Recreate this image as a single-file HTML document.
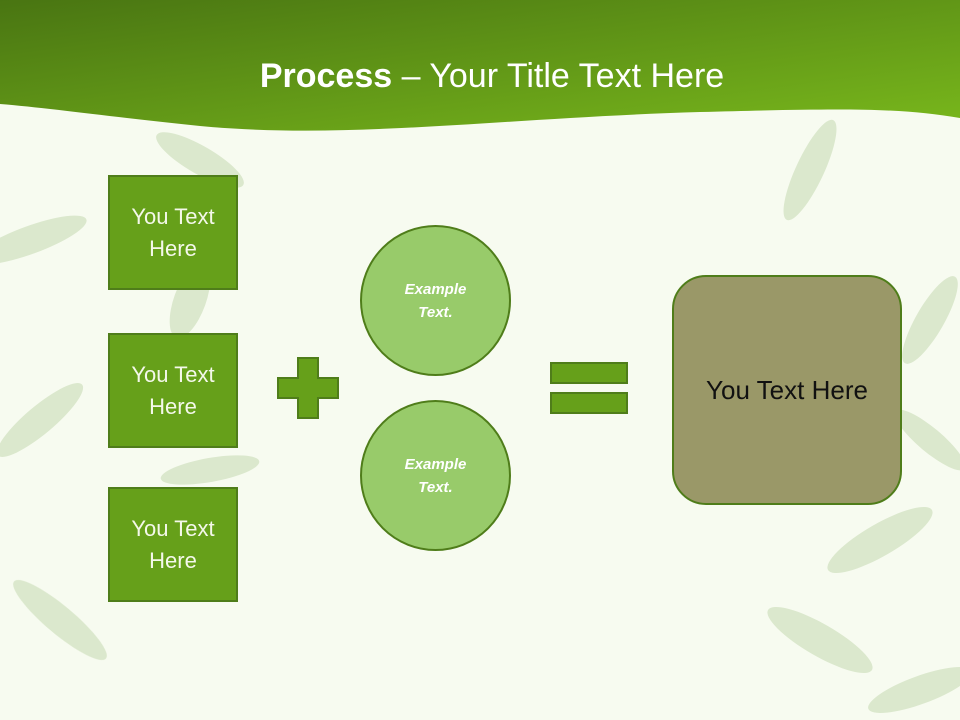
<!DOCTYPE html>
<html><head><meta charset="utf-8"><style>
body{margin:0;width:960px;height:720px;overflow:hidden;background:#f7fbf0;font-family:"Liberation Sans",sans-serif}
.box{position:absolute;left:108px;width:126px;height:111px;background:#66a01a;border:2px solid #4f7d1a;color:#f4f8ea;font-size:22px;line-height:32px;text-align:center;display:flex;align-items:center;justify-content:center}
.circ{position:absolute;left:360px;width:147px;height:147px;border-radius:50%;background:#98cb6a;border:2.5px solid #4f7d1a;color:#fff;font-style:italic;font-weight:bold;font-size:15px;line-height:23px;display:flex;align-items:center;justify-content:center;text-align:center}
.bar{position:absolute;background:#66a01a;border:2px solid #4f7d1a}
</style></head><body>
<svg width="960" height="720" style="position:absolute;left:0;top:0">
<defs><linearGradient id="g" x1="0" y1="0" x2="1" y2="1"><stop offset="0" stop-color="#497512"/><stop offset="1" stop-color="#79b81c"/></linearGradient></defs>
<g fill="#cfe0bd" opacity="0.7">
<ellipse cx="30" cy="240" rx="60" ry="14" transform="rotate(-20 30 240)"/>
<ellipse cx="200" cy="160" rx="50" ry="14" transform="rotate(30 200 160)"/>
<ellipse cx="190" cy="300" rx="16" ry="40" transform="rotate(20 190 300)"/>
<ellipse cx="40" cy="420" rx="55" ry="14" transform="rotate(-40 40 420)"/>
<ellipse cx="60" cy="620" rx="60" ry="14" transform="rotate(40 60 620)"/>
<ellipse cx="210" cy="470" rx="50" ry="12" transform="rotate(-10 210 470)"/>
<ellipse cx="810" cy="170" rx="14" ry="55" transform="rotate(25 810 170)"/>
<ellipse cx="930" cy="320" rx="50" ry="14" transform="rotate(-60 930 320)"/>
<ellipse cx="880" cy="540" rx="60" ry="16" transform="rotate(-30 880 540)"/>
<ellipse cx="820" cy="640" rx="60" ry="16" transform="rotate(30 820 640)"/>
<ellipse cx="920" cy="690" rx="55" ry="14" transform="rotate(-20 920 690)"/>
<ellipse cx="930" cy="440" rx="45" ry="12" transform="rotate(40 930 440)"/>
</g>
<path d="M0 0H960V118C900 108 850 108 700 112 C500 118 350 140 200 126 C120 118 50 108 0 104Z" fill="url(#g)"/>
<text x="492" y="87" text-anchor="middle" fill="#fff" font-family="Liberation Sans" font-size="34"><tspan font-weight="bold">Process</tspan> – Your Title Text Here</text>
<path d="M298 358H318V378H338V398H318V418H298V398H278V378H298Z" fill="#66a01a" stroke="#4f7d1a" stroke-width="2"/>
</svg>
<div class="box" style="top:175px">You Text<br>Here</div>
<div class="box" style="top:333px">You Text<br>Here</div>
<div class="box" style="top:487px">You Text<br>Here</div>
<div class="circ" style="top:225px">Example<br>Text.</div>
<div class="circ" style="top:400px">Example<br>Text.</div>
<div class="bar" style="left:550px;top:362px;width:74px;height:18px"></div>
<div class="bar" style="left:550px;top:392px;width:74px;height:18px"></div>
<div style="position:absolute;left:672px;top:275px;width:226px;height:226px;border-radius:34px;background:#9a9868;border:2.5px solid #4f7d1a;display:flex;align-items:center;justify-content:center;font-size:26px;color:#111">You Text Here</div>
</body></html>
